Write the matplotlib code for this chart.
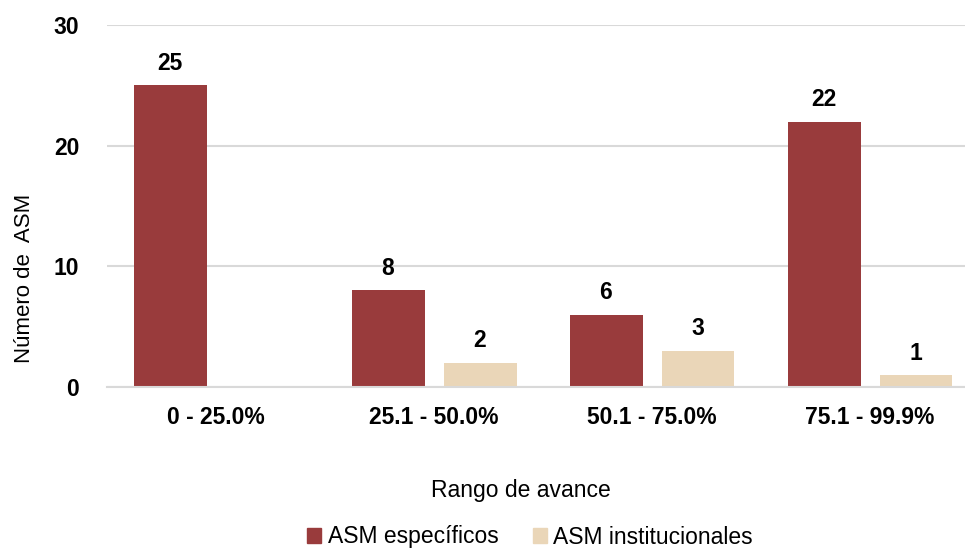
import matplotlib
matplotlib.use("Agg")
import matplotlib.pyplot as plt
import numpy as np
from matplotlib.patches import Patch

categories = ["0 - 25.0%", "25.1 - 50.0%", "50.1 - 75.0%", "75.1 - 99.9%"]
especificos = [25, 8, 6, 22]
institucionales = [0, 2, 3, 1]
series_names = ["ASM específicos", "ASM institucionales"]
yticks = [0, 10, 20, 30]

red = "#993B3C"
beige = "#EAD6B8"
grid = "#D9D9D9"

plt.rcParams['font.family'] = ['Liberation Sans', 'DejaVu Sans']

W, H = 965, 550
fig = plt.figure(figsize=(W/100, H/100), dpi=100)
left_px, right_px, top_px, bot_px = 107, 965, 25, 387
ax = fig.add_axes([left_px/W, 1 - bot_px/H, (right_px-left_px)/W, (bot_px-top_px)/H])

x = np.arange(len(categories))
bw = 73/218
off = 46/218
ax.bar(x - off, especificos, width=bw, color=red, zorder=3)
inst_x = [xi + off for xi, v in zip(x, institucionales) if v > 0]
inst_v = [v for v in institucionales if v > 0]
ax.bar(inst_x, inst_v, width=bw, color=beige, zorder=3)

for xi, v in zip(x, especificos):
    ax.annotate(str(v), (xi - off, v), xytext=(0, 7.5), textcoords="offset points",
                ha="center", va="bottom", fontsize=16.5, fontweight="bold")
for xi, v in zip(inst_x, inst_v):
    ax.annotate(str(v), (xi, v), xytext=(0, 7.5), textcoords="offset points",
                ha="center", va="bottom", fontsize=16.5, fontweight="bold")

ax.set_ylim(0, 30)
ax.set_xlim(-0.5, 3.5 - 14/218)
ax.set_yticks(yticks)
ax.set_yticklabels([str(t) for t in yticks], fontsize=16.5, fontweight="bold")
ax.set_xticks(x)
ax.set_xticklabels(categories, fontsize=16.5, fontweight="bold")
ax.tick_params(axis="both", length=0)
ax.tick_params(axis="y", pad=20)
ax.tick_params(axis="x", pad=14)
ax.yaxis.grid(True, color=grid, linewidth=1.5, zorder=0)
for s in ["top", "right", "left"]:
    ax.spines[s].set_visible(False)
ax.spines["bottom"].set_color(grid)
ax.spines["bottom"].set_linewidth(1.5)
ax.spines["bottom"].set_zorder(4)

fig.text(25/W, 1 - 278/H, "Número de  ASM", rotation=90, ha="center", va="center", fontsize=16)
fig.text(521/W, 1 - 490/H, "Rango de avance", ha="center", va="center", fontsize=16.5)

handles = [Patch(color=red), Patch(color=beige)]
fig.legend(handles, series_names, loc="center", bbox_to_anchor=(530/W, 1 - 537/H),
           ncol=2, frameon=False, fontsize=16.5, handlelength=0.6, handleheight=0.6,
           handletextpad=0.3, columnspacing=1.5)

fig.savefig("out.png", dpi=100)
